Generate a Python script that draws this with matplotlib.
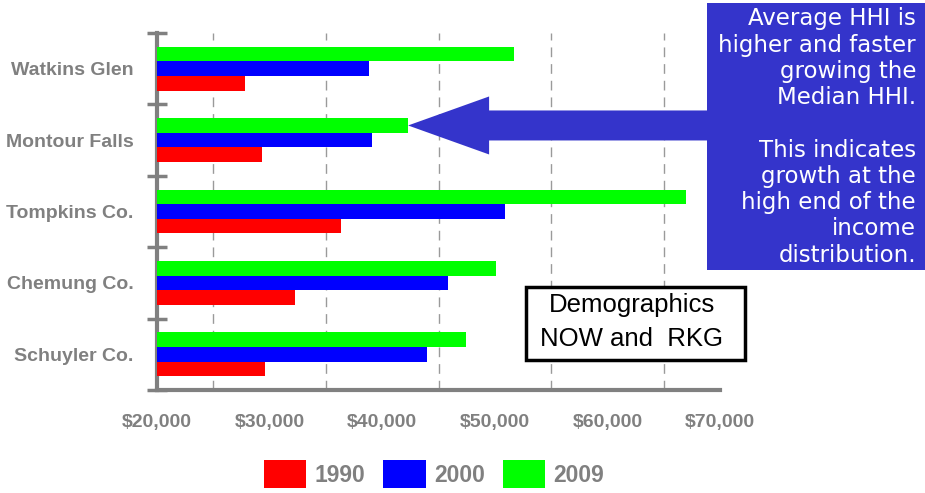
import matplotlib
matplotlib.use("Agg")
import matplotlib.pyplot as plt
import numpy as np
from matplotlib.patches import Polygon, Rectangle
from matplotlib.ticker import FixedLocator

plt.rcParams["font.family"] = ["Liberation Sans", "DejaVu Sans"]

# household income by place
places = ["Watkins Glen", "Montour Falls", "Tompkins Co.", "Chemung Co.", "Schuyler Co."]
years = ["1990", "2000", "2009"]
hhi_1990 = [27800, 29300, 36300, 32300, 29600]
hhi_2000 = [38800, 39100, 50900, 45800, 44000]
hhi_2009 = [51700, 42300, 67000, 50100, 47400]
colors = ["#ff0000", "#0000ff", "#00ff00"]

x_ticks = [20000, 30000, 40000, 50000, 60000, 70000]
x_labels = ["$20,000", "$30,000", "$40,000", "$50,000", "$60,000", "$70,000"]

note_text = ("Average HHI is\nhigher and faster\ngrowing the\nMedian HHI.\n\n"
             "This indicates\ngrowth at the\nhigh end of the\nincome\ndistribution.")
stamp_text = "Demographics\nNOW and  RKG"

W, H = 925, 493
GREY = "#808080"


def fx(px):
    return px / W


def fy(py):
    return 1 - py / H


fig = plt.figure(figsize=(W / 100, H / 100), dpi=100)
fig.patch.set_facecolor("white")
ax = fig.add_axes([fx(157), fy(390), fx(720) - fx(157), fy(33) - fy(390)])

n = len(places)
ypos = np.arange(n)[::-1]
h = 0.205
series = [hhi_1990, hhi_2000, hhi_2009]
offsets = [-h, 0, h]
for vals, off, col, yr in zip(series, offsets, colors, years):
    ax.barh(ypos + off, vals, height=h, color=col, label=yr, zorder=3)

ax.set_xlim(x_ticks[0], x_ticks[-1])
ax.set_ylim(-0.5, n - 0.5)

# x axis
ax.xaxis.set_major_locator(FixedLocator(x_ticks))
ax.set_xticklabels(x_labels)
ax.tick_params(axis="x", which="major", length=0, pad=17,
               labelsize=14, labelcolor=GREY)
for lab in ax.get_xticklabels():
    lab.set_fontweight("bold")
mids = [(a + b) / 2 for a, b in zip(x_ticks[:-1], x_ticks[1:])]
ax.xaxis.set_minor_locator(FixedLocator(mids))
ax.tick_params(axis="x", which="minor", length=0)
ax.grid(axis="x", which="minor", color="#9a9a9a", linestyle=(0, (7, 5)), linewidth=1)
ax.set_axisbelow(True)

# y axis: boundary ticks + centred labels
ax.yaxis.set_major_locator(FixedLocator(np.arange(-0.5, n, 1.0)))
ax.set_yticklabels([])
ax.tick_params(axis="y", which="major", direction="inout", length=15,
               width=2.5, color=GREY)
ax.yaxis.set_minor_locator(FixedLocator(ypos))
ax.set_yticklabels(places, minor=True)
ax.tick_params(axis="y", which="minor", length=0, pad=17,
               labelsize=14, labelcolor=GREY)
for lab in ax.get_yticklabels(minor=True):
    lab.set_fontweight("bold")

for s in ["top", "right"]:
    ax.spines[s].set_visible(False)
for s in ["left", "bottom"]:
    ax.spines[s].set_color(GREY)
    ax.spines[s].set_linewidth(3)

# legend
leg = fig.legend(loc="center", bbox_to_anchor=(fx(434), fy(474)), ncol=3,
                 frameon=False, handlelength=1.85, handleheight=1.5,
                 handletextpad=0.35, columnspacing=0.8,
                 prop={"weight": "bold", "size": 16.5})
for t in leg.get_texts():
    t.set_color(GREY)

# blue note box with arrow
box_col = "#3434cb"
fig.patches.append(Rectangle((fx(707), fy(270)), fx(925) - fx(707), fy(3) - fy(270),
                             transform=fig.transFigure, facecolor=box_col,
                             edgecolor="none", zorder=5))
fig.text(fx(916), fy(137), note_text, ha="right", va="center", multialignment="right",
         color="white", fontsize=16.5, family="DejaVu Sans", linespacing=1.18, zorder=6)

fig.canvas.draw()
tx, ty = ax.transData.transform((hhi_2009[1], ypos[1] + h))
box_left = fig.transFigure.transform((fx(707), 0))[0]
pts = np.array([
    (tx, ty), (tx + 81, ty + 29), (tx + 81, ty + 15), (box_left, ty + 15),
    (box_left, ty - 15), (tx + 81, ty - 15), (tx + 81, ty - 29),
])
pts = fig.transFigure.inverted().transform(pts)
fig.patches.append(Polygon(pts, closed=True, transform=fig.transFigure,
                           facecolor=box_col, edgecolor="none", zorder=5))

# stamp box
fig.patches.append(Rectangle((fx(526), fy(360)), fx(745) - fx(526), fy(287) - fy(360),
                             transform=fig.transFigure, facecolor="white",
                             edgecolor="black", linewidth=2.5, zorder=5))
fig.text(fx(632), fy(322), stamp_text, ha="center", va="center", color="black",
         fontsize=18.5, linespacing=1.55, zorder=6)

fig.savefig("out.png", dpi=100, facecolor="white")
